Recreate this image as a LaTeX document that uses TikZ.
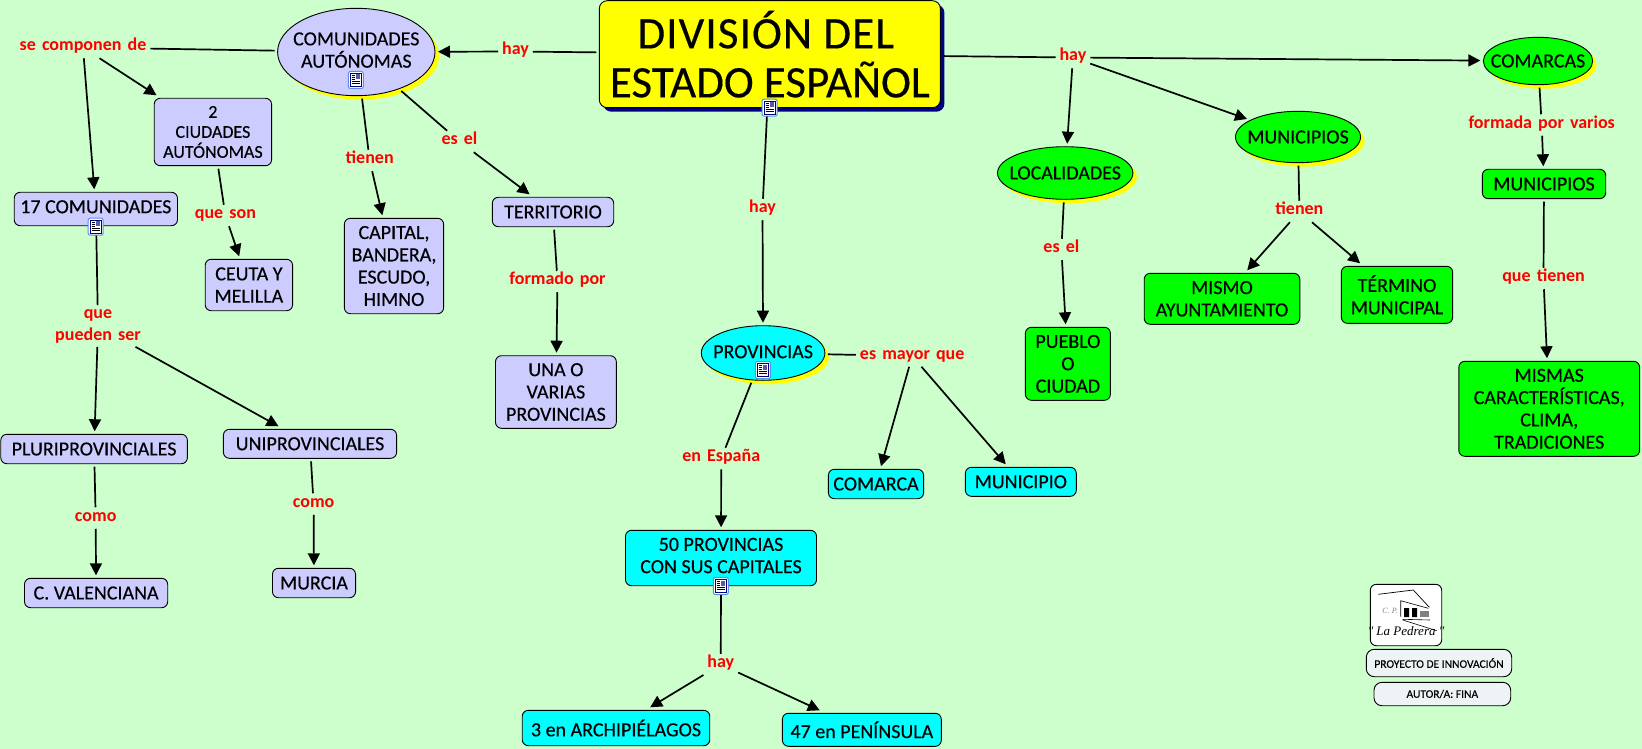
\documentclass[tikz,border=0pt]{standalone}
\usepackage{fontspec}
\usetikzlibrary{arrows.meta,shadows,shapes.geometric}
\setmainfont[FakeBold=0.3]{Carlito}
\newfontfamily\linkfont[WordSpace=1.5]{Carlito}
\newfontfamily\logofont{Liberation Serif}
\definecolor{bgc}{HTML}{CCFFCC}
\definecolor{lavc}{HTML}{CCCCFF}
\definecolor{cyanc}{HTML}{00FFFF}
\definecolor{greenc}{HTML}{00FF00}
\definecolor{yel}{HTML}{FFFF00}
\definecolor{navyc}{HTML}{000080}
\definecolor{paper}{HTML}{EEF3F6}
\definecolor{iconb}{HTML}{5A90DC}
\tikzset{
  x=1pt,y=-1pt,
  concept/.style={draw=black,line width=0.9pt,inner sep=-30pt,outer sep=3pt,align=center,
    font=\fontsize{20}{22.3}\selectfont},
  boxn/.style={concept,rectangle,rounded corners=6pt},
  elln/.style={concept,ellipse,copy shadow={shadow xshift=4pt,shadow yshift=-4pt,fill=yel,draw=none}},
  lv/.style={fill=lavc},
  cy/.style={fill=cyanc},
  gr/.style={fill=greenc},
  sz/.style n args={2}{minimum width=#1pt,minimum height=#2pt},
  linkn/.style={inner sep=0pt,outer sep=4pt,align=center,text=red,text height=10pt,text depth=3.5pt,
    font=\fontsize{18}{22}\linkfont\bfseries},
  linkm/.style={inner sep=0pt,outer sep=4pt,align=center,text=red,
    font=\fontsize{18}{22}\linkfont\bfseries},
  plain/.style={line width=1.7pt,draw=black},
  arr/.style={plain,-{Triangle[width=12pt,length=12pt]}},
  docicon/.pic={
    \draw[iconb,fill=white,line width=1pt,rounded corners=2pt] (-7.5,-8.5) rectangle (7.5,8.5);
    \draw[navyc,fill=white,line width=0.9pt] (-5.5,-6.5) rectangle (5.5,6.5);
    \fill[gray!70!blue] (0.5,-5.5) rectangle (4.5,-0.5);
    \draw[black,line width=0.8pt] (-4,-4.5)--(-0.5,-4.5) (-4,-2.5)--(-0.5,-2.5) (-4,-0.5)--(-0.5,-0.5)
      (-4,1.5)--(4.5,1.5) (-4,3.5)--(4.5,3.5);
  },
}
\begin{document}
\begin{tikzpicture}
\path[use as bounding box,fill=bgc] (0,0) rectangle (1642,749);
% concepts
\node[elln,lv,sz={157.4}{87.4}] (ca) at (356.3,52) {COMUNIDADES\\AUTÓNOMAS\\[-18.3pt]};
\node[boxn,lv,sz={117.4}{67.4},font=\fontsize{18}{20}\selectfont] (ciud) at (212.9,132) {2\\CIUDADES\\AUTÓNOMAS};
\node[boxn,lv,sz={163.3}{33.4}] (com17) at (95.85,209) {17 COMUNIDADES\\[-17.7pt]};
\node[boxn,lv,sz={87.4}{51.4}] (ceuta) at (248.9,285) {CEUTA Y\\MELILLA};
\node[boxn,lv,sz={99.3}{95.4}] (capital) at (394,266) {CAPITAL,\\BANDERA,\\ESCUDO,\\HIMNO};
\node[boxn,lv,sz={121.4}{29.4}] (terr) at (553,212) {TERRITORIO};
\node[boxn,lv,sz={120.8}{72.6}] (unao) at (555.9,392) {UNA O\\VARIAS\\PROVINCIAS};
\node[boxn,lv,sz={186.6}{29.4}] (pluri) at (94.1,449) {PLURIPROVINCIALES};
\node[boxn,lv,sz={173.2}{29}] (uni) at (310,443.8) {UNIPROVINCIALES};
\node[boxn,lv,sz={143.2}{29.4}] (cval) at (96.1,593) {C. VALENCIANA};
\node[boxn,lv,sz={83.1}{29.4}] (murcia) at (314,583) {MURCIA};
\node[boxn,fill=yel,sz={341.1}{107},rounded corners=8pt,
  copy shadow={shadow xshift=4pt,shadow yshift=-4pt,fill=navyc,draw=none},
  font=\fontsize{45}{49}\selectfont] (title) at (769.85,54.2) {\hspace*{-8pt}{\addfontfeature{LetterSpace=2.5}DIVISIÓN DEL}\\ESTADO ESPAÑOL};
\node[elln,gr,sz={135.4}{52.6}] (loc) at (1065.2,173) {LOCALIDADES};
\node[elln,cy,sz={123.6}{54.6}] (prov) at (763.1,353) {PROVINCIAS\\[-19.7pt]};
\node[boxn,gr,sz={85}{73}] (pueblo) at (1067.9,363.8) {PUEBLO\\O\\CIUDAD};
\node[boxn,cy,sz={95.2}{29.4}] (comarca) at (876,484) {COMARCA};
\node[boxn,cy,sz={110.9}{29}] (municipio) at (1020.85,481.8) {MUNICIPIO};
\node[boxn,cy,sz={191}{55.4}] (p50) at (721,558) {50 PROVINCIAS\\CON SUS CAPITALES\\[-17.3pt]};
\node[boxn,cy,sz={187.5}{35.4}] (p3) at (616,728) {3 en ARCHIPIÉLAGOS};
\node[boxn,cy,sz={158.9}{33}] (p47) at (861.85,729.8) {47 en PENÍNSULA};
\node[elln,gr,sz={109.3}{47.4}] (comarcas) at (1538,61) {COMARCAS};
\node[elln,gr,sz={125.1}{51.4}] (mune) at (1298,137) {MUNICIPIOS};
\node[boxn,gr,sz={123.4}{29.4}] (munb) at (1544,184) {MUNICIPIOS};
\node[boxn,gr,sz={155.6}{51}] (mismo) at (1222,298.8) {MISMO\\AYUNTAMIENTO};
\node[boxn,gr,sz={111.3}{57}] (termino) at (1397,294.8) {TÉRMINO\\MUNICIPAL};
\node[boxn,gr,sz={180.8}{95}] (mismas) at (1549.2,408.8) {MISMAS\\CARACTERÍSTICAS,\\CLIMA,\\TRADICIONES};
\node[boxn,fill=white,sz={71.4}{61.4}] (logo) at (1406,615) {};
\node[boxn,fill=paper,sz={145.4}{27.4},font=\fontsize{11.5}{14}\selectfont,rounded corners=8pt] (proy) at (1439,663) {PROYECTO DE INNOVACIÓN};
\node[boxn,fill=paper,sz={136.7}{23.4},font=\fontsize{11.5}{14}\selectfont,rounded corners=8pt] (autor) at (1442.35,694) {AUTOR/A: FINA};
% linking phrases
\node[linkn] (hayl) at (515.6,51.5) {hay};
\node[linkn] (secomp) at (83,47.5) {se componen de};
\node[linkn] (tien1) at (369.7,160.5) {tienen};
\node[linkn] (esel1) at (459.5,141.5) {es el};
\node[linkn] (queson) at (225.4,215.5) {que son};
\node[linkn] (formado) at (557.5,281.5) {formado por};
\node[linkm] (quep) at (98,326) {que\\pueden ser};
\node[linkn] (como1) at (95.7,518) {como};
\node[linkn] (como2) at (313.6,504) {como};
\node[linkn] (hayr) at (1072.9,57.5) {hay};
\node[linkn] (hayc) at (762.5,209.5) {hay};
\node[linkn] (esel2) at (1061.4,249.5) {es el};
\node[linkn] (mayor) at (912.2,356) {es mayor que};
\node[linkn] (enesp) at (721.2,458.5) {en España};
\node[linkn] (hayb) at (720.8,664.5) {hay};
\node[linkn] (tien2) at (1299.4,211.5) {tienen};
\node[linkn] (formada) at (1541.7,125) {formada por varios};
\node[linkn] (quet) at (1543.5,278.5) {que tienen};
% connectors
\draw[plain] (title)--(hayl);
\draw[arr] (hayl)--(ca);
\draw[plain] (ca)--(secomp);
\draw[arr] (secomp)--(ciud);
\draw[arr] (secomp)--(com17);
\draw[plain] (ciud)--(queson);
\draw[arr] (queson)--(ceuta);
\draw[plain] (com17)--(quep);
\draw[arr] (quep)--(pluri);
\draw[arr] (quep)--(uni);
\draw[plain] (pluri)--(como1);
\draw[arr] (como1)--(cval);
\draw[plain] (uni)--(como2);
\draw[arr] (como2)--(murcia);
\draw[plain] (ca)--(tien1);
\draw[arr] (tien1)--(capital);
\draw[plain] (ca)--(esel1);
\draw[arr] (esel1)--(terr);
\draw[plain] (terr)--(formado);
\draw[arr] (formado)--(unao);
\draw[plain] (title)--(hayc);
\draw[arr] (hayc)--(prov);
\draw[plain] (prov)--(enesp);
\draw[arr] (enesp)--(p50);
\draw[plain] (prov)--(mayor);
\draw[arr] (mayor)--(comarca);
\draw[arr] (mayor)--(municipio);
\draw[plain] (p50)--(hayb);
\draw[arr] (hayb)--(p3);
\draw[arr] (hayb)--(p47);
\draw[plain] (title)--(hayr);
\draw[arr] (hayr)--(loc);
\draw[arr] (hayr)--(mune);
\draw[arr] (hayr)--(comarcas);
\draw[plain] (loc)--(esel2);
\draw[arr] (esel2)--(pueblo);
\draw[plain] (mune)--(tien2);
\draw[arr] (tien2)--(mismo);
\draw[arr] (tien2)--(termino);
\draw[plain] (comarcas)--(formada);
\draw[arr] (formada)--(munb);
\draw[plain] (munb)--(quet);
\draw[arr] (quet)--(mismas);
% resource icons
\pic at (769.6,107.7) {docicon};
\pic at (355.9,80) {docicon};
\pic at (95.7,226.7) {docicon};
\pic at (762.9,370) {docicon};
\pic at (720.8,586) {docicon};
% logo drawing
\draw[line width=0.7pt] (1378.3,594.3)--(1413.3,590)--(1429.3,607.3);
\draw[line width=0.6pt] (1400.7,616.7)--(1400.7,600.7)--(1428.3,608.3);
\fill (1404,608) rectangle (1409,617) (1412,608) rectangle (1417,617);
\fill[gray] (1420,611) rectangle (1429,617);
\draw[line width=0.6pt] (1402.7,619.3)--(1430,620) (1402.7,620)--(1436.7,630.7);
\node[inner sep=0pt,text=gray,font=\fontsize{8}{9}\logofont\itshape] (cp) at (1390,611) {C. P.};
\node[inner sep=0pt,font=\fontsize{13}{14}\logofont\itshape] (pedrera) at (1406,631) {" La Pedrera "};
\end{tikzpicture}
\end{document}
